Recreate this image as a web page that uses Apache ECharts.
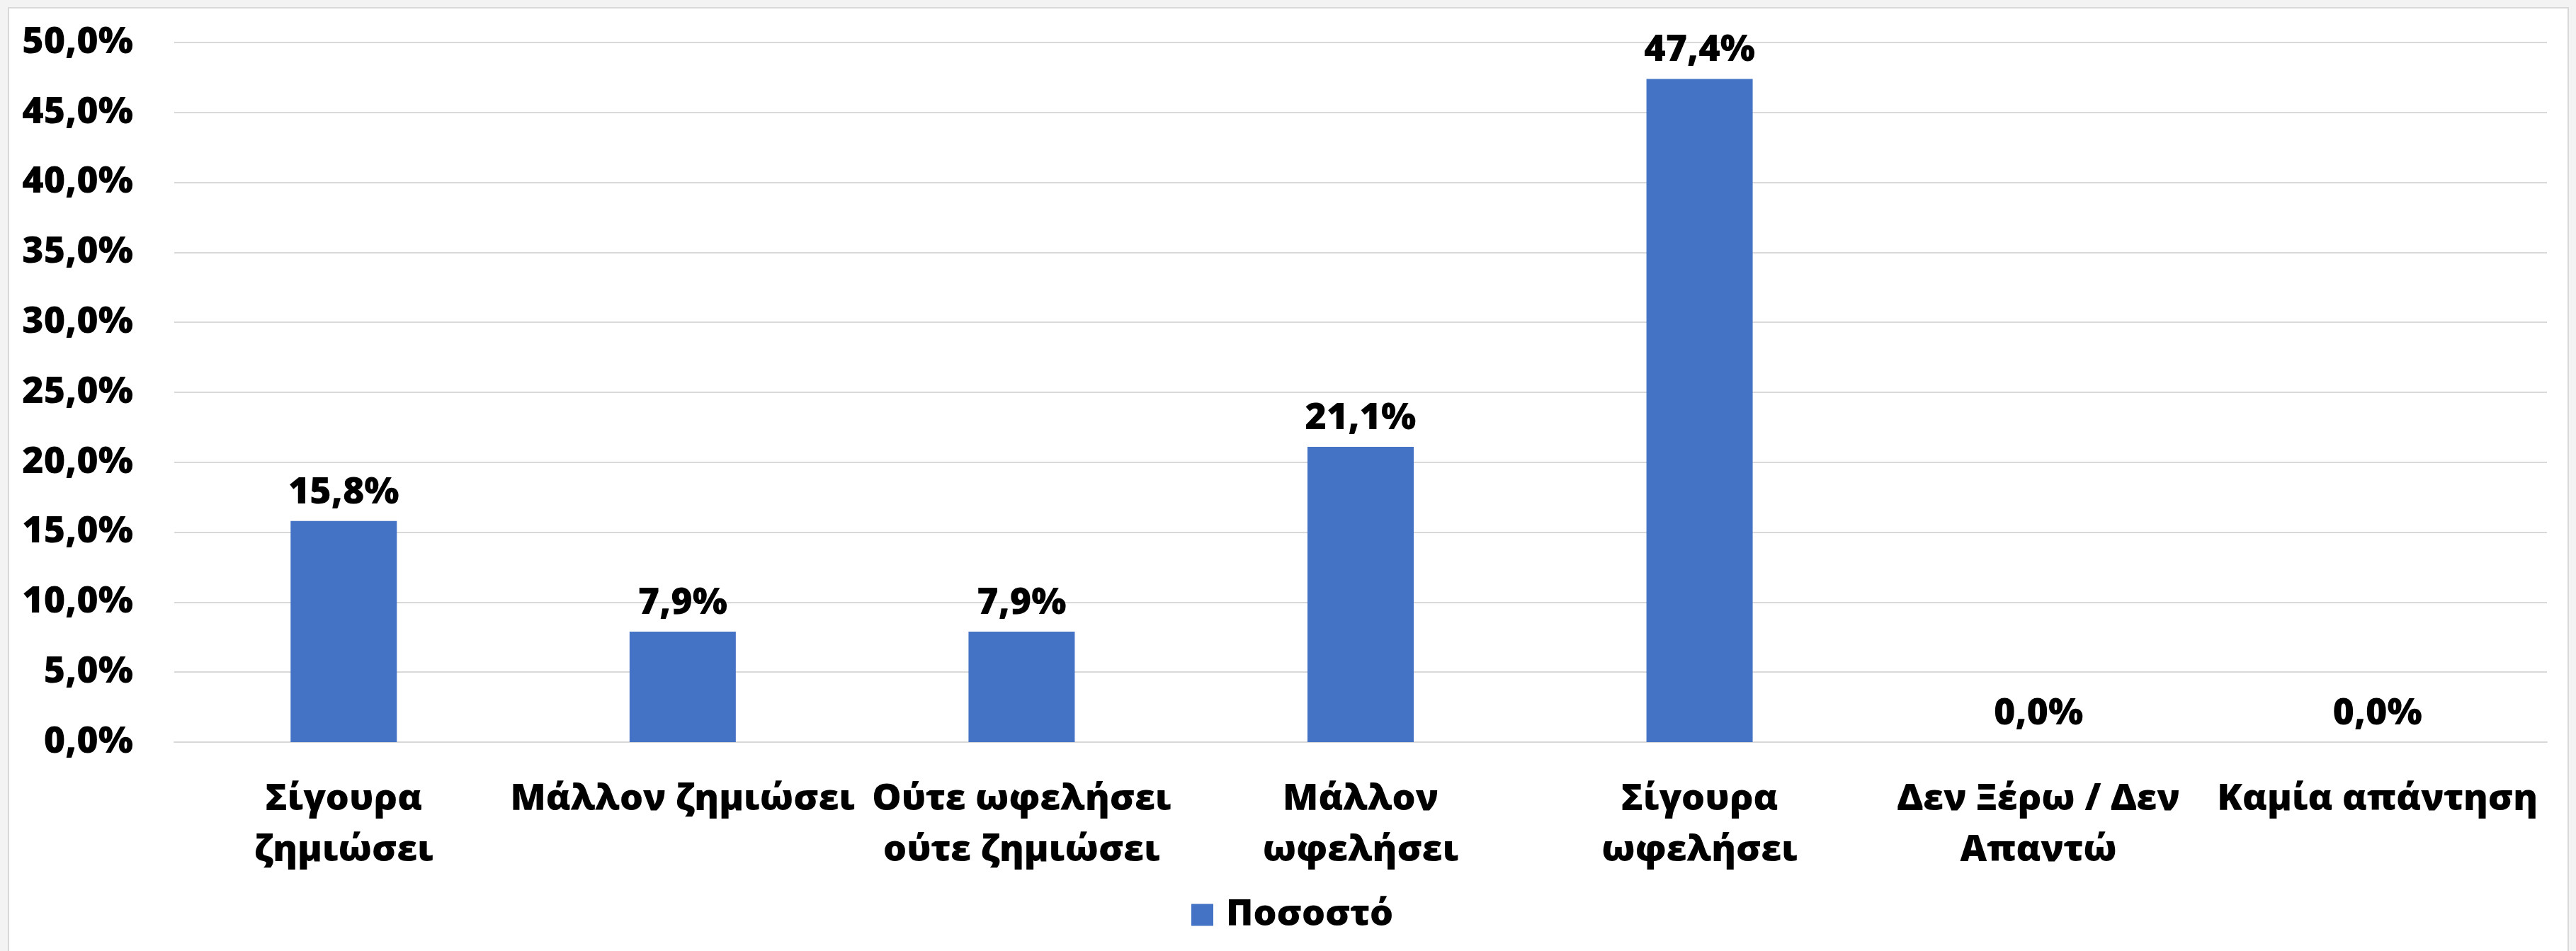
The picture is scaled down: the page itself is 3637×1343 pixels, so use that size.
<!DOCTYPE html>
<html>
<head>
<meta charset="utf-8">
<script src="https://cdn.jsdelivr.net/npm/echarts@6/dist/echarts.min.js"></script>
<style>
html,body{margin:0;padding:0;background:#f3f3f3;}
#chart{width:3637px;height:1343px;}
</style>
</head>
<body>
<div id="chart"></div>
<script>
const categories = [
  'Σίγουρα\nζημιώσει',
  'Μάλλον ζημιώσει',
  'Ούτε ωφελήσει\nούτε ζημιώσει',
  'Μάλλον\nωφελήσει',
  'Σίγουρα\nωφελήσει',
  'Δεν Ξέρω / Δεν\nΑπαντώ',
  'Καμία απάντηση'
];
const seriesName = 'Ποσοστό';
const values = [15.8, 7.9, 7.9, 21.1, 47.4, 0.0, 0.0];
const yTicks = { min: 0, max: 50, interval: 5 };

const fmt = v => Number(v).toFixed(1).replace('.', ',') + '%';
const FONT = '"Open Sans", "Noto Sans", sans-serif';
const W = 800;

const chart = echarts.init(document.getElementById('chart'), null, { renderer: 'canvas' });
chart.setOption({
  backgroundColor: '#f3f3f3',
  animation: false,
  graphic: [{
    type: 'rect',
    z: -10,
    silent: true,
    shape: { x: 12, y: 11, width: 3614, height: 1400 },
    style: { fill: '#ffffff', stroke: '#d9d9d9', lineWidth: 2 }
  }],
  grid: { left: 246, right: 41, top: 60, bottom: 295, containLabel: false },
  legend: {
    data: [seriesName],
    left: 1682,
    top: 1266,
    padding: 0,
    icon: 'rect',
    itemWidth: 31,
    itemHeight: 31,
    textStyle: { fontFamily: FONT, fontWeight: W, fontSize: 52, color: '#000', lineHeight: 52, padding: [0, 0, 0, 13] }
  },
  xAxis: {
    type: 'category',
    data: categories,
    axisLine: { show: true, lineStyle: { color: '#d9d9d9', width: 2 } },
    axisTick: { show: false },
    axisLabel: {
      interval: 0,
      margin: 45,
      fontFamily: FONT, fontWeight: W, fontSize: 52, color: '#000',
      lineHeight: 72, align: 'center'
    }
  },
  yAxis: {
    type: 'value',
    min: yTicks.min, max: yTicks.max, interval: yTicks.interval,
    axisLine: { show: false },
    axisTick: { show: false },
    splitLine: { lineStyle: { color: '#d9d9d9', width: 2 } },
    axisLabel: {
      margin: 58,
      formatter: v => fmt(v),
      fontFamily: FONT, fontWeight: W, fontSize: 52, color: '#000'
    }
  },
  series: [{
    name: seriesName,
    type: 'bar',
    data: values,
    barWidth: 150,
    itemStyle: { color: '#4472c4' },
    label: {
      show: true,
      position: 'top',
      distance: 14,
      formatter: p => fmt(p.value),
      fontFamily: FONT, fontWeight: W, fontSize: 52, color: '#000'
    }
  }]
});
</script>
</body>
</html>
